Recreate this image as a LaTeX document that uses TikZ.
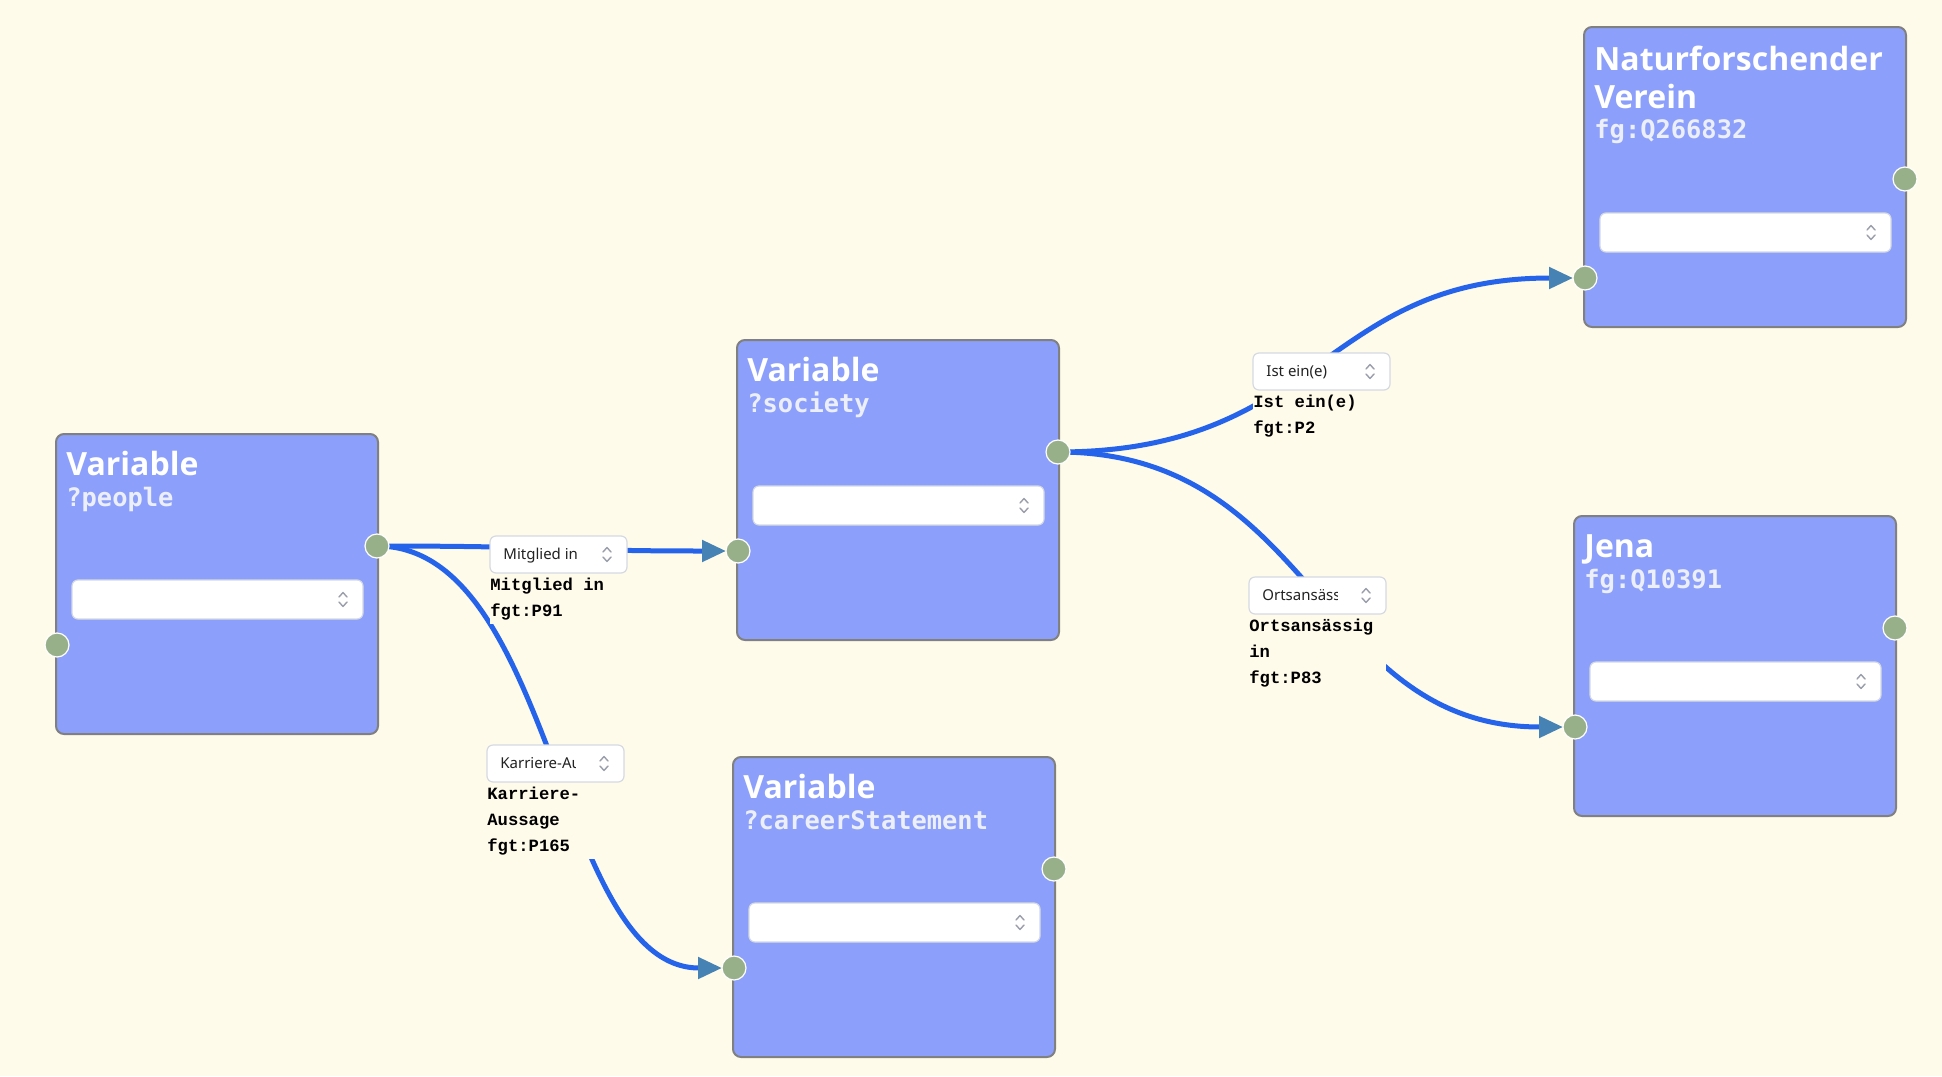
\documentclass[tikz,border=0pt]{standalone}
\usepackage{fontspec}
\setmainfont{Noto Sans}
\newfontfamily\titlefont{Open Sans}
\newfontfamily\submono{DejaVu Sans Mono}
\newfontfamily\lblmono{Liberation Mono}
\usetikzlibrary{arrows.meta,calc}
\definecolor{bgc}{HTML}{FFFBEA}
\definecolor{boxfill}{HTML}{8CA0FB}
\definecolor{boxborder}{HTML}{808080}
\definecolor{portc}{HTML}{98B08A}
\definecolor{edgec}{HTML}{2563EB}
\definecolor{arrowc}{HTML}{4682B4}
\definecolor{ddborder}{HTML}{D5D9E2}
\definecolor{chevc}{HTML}{9A9EAA}
\definecolor{subc}{HTML}{ECEFF8}
\definecolor{ddtextc}{HTML}{222222}
\pgfdeclarelayer{bglayer}
\pgfdeclarelayer{edgelayer}
\pgfsetlayers{bglayer,edgelayer,main}
\tikzset{
  boxst/.style={draw=boxborder, line width=1pt, fill=boxfill, rounded corners=4pt,
    minimum width=161pt, minimum height=150pt, inner sep=0pt, outer sep=0pt},
  port/.style={circle, fill=portc, draw=white, line width=0.6pt, minimum size=12pt, inner sep=0pt, outer sep=0pt},
  nodedd/.style={fill=white, draw=ddborder, line width=0.6pt, rounded corners=3pt,
    minimum width=145.5pt, minimum height=19.5pt, inner sep=0pt, outer sep=0pt},
  lbldd/.style={fill=white, draw=ddborder, line width=0.6pt, rounded corners=3pt,
    minimum width=68.5pt, minimum height=18.5pt, inner sep=0pt, outer sep=0pt},
  cover/.style={fill=bgc, minimum width=68.5pt, inner sep=0pt, outer sep=0pt},
  chevst/.style={draw=chevc, line width=0.7pt, line cap=round, line join=round},
  titlest/.style={text=white, font=\titlefont\fontsize{16pt}{19pt}\selectfont\bfseries, inner sep=0pt, anchor=base west},
  subst/.style={text=subc, font=\submono\fontsize{12.7pt}{15pt}\selectfont\bfseries, inner sep=0pt, anchor=base west},
  lbltext/.style={text=black, font=\lblmono\fontsize{8.6pt}{13pt}\selectfont\bfseries, inner sep=0pt, anchor=base west},
  ddtext/.style={text=ddtextc, font=\fontsize{7.5pt}{9pt}\selectfont, inner sep=0pt, anchor=base west},
  edge/.style={draw=edgec, line width=2.5pt, -{Triangle[length=12pt,width=10.5pt,color=arrowc]}},
}
\newcommand\chev[2]{\draw[chevst,shift={(#1,#2)}] (-4,-2.5) -- (0,-7) -- (4,-2.5) (-4,2.5) -- (0,7) -- (4,2.5);}
% name, x, y, shift
\newcommand\qbox[4]{%
  \node[boxst, anchor=north west] (#1) at (#2,#3) {};
  \node[nodedd, anchor=north west] (#1-dd) at (#2+16,#3+146+#4) {};
  \chev{#2+287}{#3+165.5+#4}
  \node[port] (#1-r) at (#2+321,#3+112+#4) {};
  \node[port] (#1-l) at (#2+1,#3+211+#4) {};
}
% name, x, y, height(px), dropdown text
\newcommand\elabel[5]{%
  \node[cover, anchor=north west, minimum height=#4*0.5pt] (#1) at (#2,#3) {};
  \node[lbldd, anchor=north west] (#1-dd) at (#2,#3) {};
  \begin{scope}
    \clip (#2+13,#3) rectangle (#2+88,#3+37);
    \node[ddtext] (#1-ddt) at (#2+13,#3+23) {#5};
  \end{scope}
  \chev{#2+117}{#3+18.5}
}
\begin{document}
\begin{tikzpicture}[x=0.5pt,y=-0.5pt]
\useasboundingbox (0,0) rectangle (1942,1076);
\begin{pgfonlayer}{bglayer}
  \fill[bgc] (0,0) rectangle (1942,1076);
\end{pgfonlayer}

% nodes
\qbox{people}{56}{434}{0}
\node[titlest] (people-t) at (66,475) {Variable};
\node[subst] (people-s) at (66,506) {?people};

\qbox{society}{737}{340}{0}
\node[titlest] (society-t) at (747,381) {Variable};
\node[subst] (society-s) at (747,412) {?society};

\qbox{career}{733}{757}{0}
\node[titlest] (career-t) at (743,798) {Variable};
\node[subst] (career-s) at (743,829) {?careerStatement};

\qbox{naturf}{1584}{27}{40}
\node[titlest] (naturf-t1) at (1594,70) {Naturforschender};
\node[titlest] (naturf-t2) at (1594,108) {Verein};
\node[subst] (naturf-s) at (1594,138) {fg:Q266832};

\qbox{jena}{1574}{516}{0}
\node[titlest] (jena-t) at (1584,557) {Jena};
\node[subst] (jena-s) at (1584,588) {fg:Q10391};

% edges
\begin{pgfonlayer}{edgelayer}
  \draw[edge] (people-r.center) .. controls +(180,0) and +(-180,0) .. (society-l);
  \draw[edge] (people-r.center) .. controls +(178,0) and +(-178,0) .. (career-l);
  \draw[edge] (society-r.center) .. controls +(263,0) and +(-263,0) .. (naturf-l);
  \draw[edge] (society-r.center) .. controls +(258,0) and +(-258,0) .. (jena-l);
\end{pgfonlayer}

% edge labels
\elabel{l1}{490}{536}{88}{Mitglied in}
\node[lbltext] (l1-a) at (490,590) {Mitglied in};
\node[lbltext] (l1-b) at (490,616) {fgt:P91};

\elabel{l2}{487}{745}{114}{Karriere-Aussage}
\node[lbltext] (l2-a) at (487,799) {Karriere-};
\node[lbltext] (l2-b) at (487,825) {Aussage};
\node[lbltext] (l2-c) at (487,851) {fgt:P165};

\elabel{l3}{1253}{353}{88}{Ist ein(e)}
\node[lbltext] (l3-a) at (1253,407) {Ist ein(e)};
\node[lbltext] (l3-b) at (1253,433) {fgt:P2};

\elabel{l4}{1249}{577}{114}{Ortsansässig in}
\node[lbltext] (l4-a) at (1249,631) {Ortsansässig};
\node[lbltext] (l4-b) at (1249,657) {in};
\node[lbltext] (l4-c) at (1249,683) {fgt:P83};
\end{tikzpicture}
\end{document}
